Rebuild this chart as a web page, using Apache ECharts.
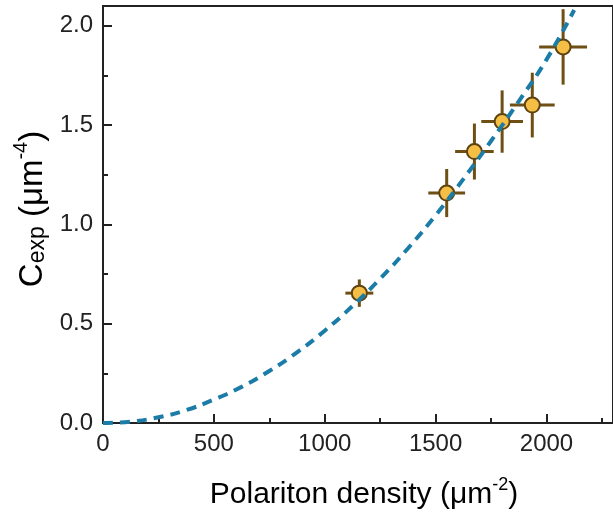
<!DOCTYPE html>
<html><head><meta charset="utf-8">
<script src="https://cdn.jsdelivr.net/npm/echarts@6/dist/echarts.min.js"></script>
<style>html,body{margin:0;padding:0;background:#fff}#c{width:613px;height:514px}</style>
</head><body><div id="c"></div>
<script>
// Experimental points
var densX = [1156, 1550, 1675, 1800, 1936, 2075];
var cExp  = [0.654, 1.158, 1.367, 1.518, 1.601, 1.894];
var densErr = [63, 83, 87, 94, 101, 108];
var cErr  = [0.069, 0.121, 0.141, 0.157, 0.163, 0.19];
// Fit curve
var fitX = [0,125,250,375,500,625,750,875,1000,1125,1250,1375,1500,1625,1750,1875,2000,2125];
var fitY = [0,0.007,0.029,0.065,0.118,0.182,0.262,0.356,0.465,0.589,0.727,0.879,1.046,1.228,1.42,1.62,1.83,2.08];
var xTicks = [0,500,1000,1500,2000];
var yTicks = [0.0,0.5,1.0,1.5,2.0];

var chart = echarts.init(document.getElementById('c'), null, {renderer:'canvas'});
var font = 'Liberation Sans, Arial, sans-serif';
var ink = '#222';
var barColor = '#6e4f14';

var pts = densX.map(function(x,i){return [x, cExp[i], densErr[i], cErr[i]];});
var fit = fitX.map(function(x,i){return [x, fitY[i]];});

chart.setOption({
  animation:false,
  grid:{left:103, top:6, right:-10, bottom:91, show:true, borderColor:ink, borderWidth:2},
  xAxis:{type:'value', min:0, max:2300, interval:500,
    axisLine:{show:true, onZero:false, lineStyle:{color:ink, width:2}},
    axisTick:{show:true, inside:true, length:9, lineStyle:{color:ink, width:2}},
    minorTick:{show:true, splitNumber:2, length:5, lineStyle:{color:ink, width:2}},
    splitLine:{show:false},
    axisLabel:{fontFamily:font, fontSize:24, color:ink, margin:9, showMaxLabel:false,
      formatter:function(v){return xTicks.indexOf(v)>=0 ? String(v) : '';}}
  },
  yAxis:{type:'value', min:0, max:2.1, interval:0.5,
    axisLine:{show:true, onZero:false, lineStyle:{color:ink, width:2}},
    axisTick:{show:true, inside:true, length:9, lineStyle:{color:ink, width:2}},
    minorTick:{show:true, splitNumber:2, length:5, lineStyle:{color:ink, width:2}},
    splitLine:{show:false},
    axisLabel:{fontFamily:font, fontSize:24, color:ink, margin:10, showMaxLabel:false,
      formatter:function(v){return yTicks.indexOf(v)>=0 ? v.toFixed(1) : '';}}
  },
  graphic:[
    {type:'text', x:364, y:493, style:{
      text:'{a|Polariton density (μm}{s|-2}{a|)}',
      align:'center', verticalAlign:'middle',
      rich:{a:{fontFamily:font, fontSize:30, color:ink, lineHeight:34, verticalAlign:'bottom'},
            s:{fontFamily:font, fontSize:18, color:ink, lineHeight:34, verticalAlign:'top'}}
    }},
    {type:'text', x:30, y:209, rotation:Math.PI/2, style:{
      text:'{a|C}{b|exp}{a| (μm}{s|-4}{a|)}',
      align:'center', verticalAlign:'middle',
      rich:{a:{fontFamily:font, fontSize:33, color:ink, lineHeight:38, verticalAlign:'bottom'},
            b:{fontFamily:font, fontSize:23, color:ink, lineHeight:32, verticalAlign:'bottom'},
            s:{fontFamily:font, fontSize:20, color:ink, lineHeight:38, verticalAlign:'top'}}
    }}
  ],
  series:[
    {type:'custom', data:pts, clip:true, z:2,
      renderItem:function(params, api){
        var x=api.value(0), y=api.value(1), ex=api.value(2), ey=api.value(3);
        var l=api.coord([x-ex,y]), r=api.coord([x+ex,y]);
        var t=api.coord([x,y+ey]), b=api.coord([x,y-ey]);
        var st={stroke:barColor, lineWidth:3};
        return {type:'group', children:[
          {type:'line', shape:{x1:l[0],y1:l[1],x2:r[0],y2:r[1]}, style:st},
          {type:'line', shape:{x1:t[0],y1:t[1],x2:b[0],y2:b[1]}, style:st}
        ]};
      }},
    {type:'scatter', data:pts.map(function(p){return [p[0],p[1]];}), z:3,
      symbol:'circle', symbolSize:15,
      itemStyle:{color:'#f5bf45', borderColor:'#5e4310', borderWidth:2, opacity:1}},
    {type:'line', data:fit, z:4, smooth:true, showSymbol:false, symbol:'none', clip:true,
      lineStyle:{color:'#1b7ca8', width:4, type:[10,7], cap:'butt'}}
  ]
});
</script></body></html>
